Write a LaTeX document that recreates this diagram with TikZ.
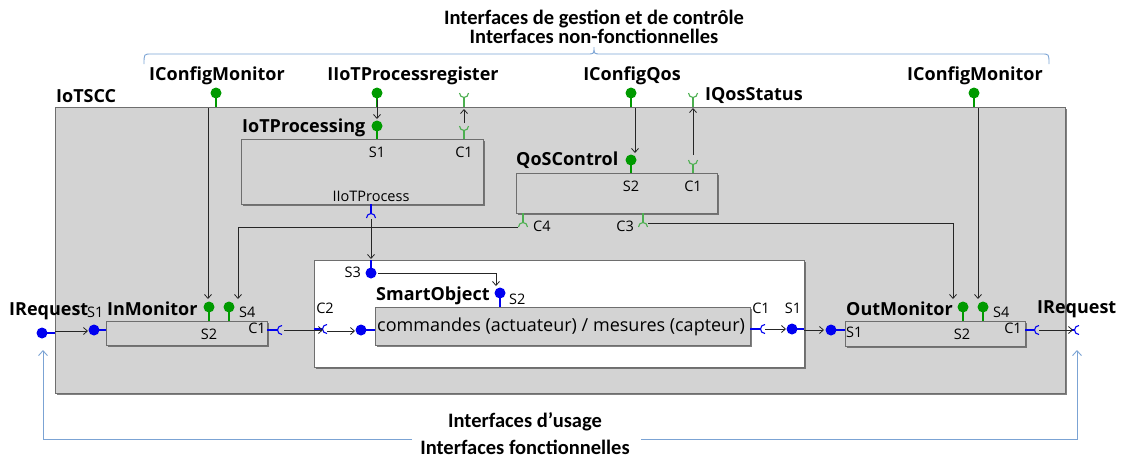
\documentclass[tikz,border=0pt]{standalone}
\usepackage{fontspec}
\setmainfont{Open Sans}
\newfontfamily\calfont{Carlito}
\usetikzlibrary{arrows.meta,shadows}
\definecolor{boxfill}{HTML}{D3D3D3}
\definecolor{boxline}{HTML}{6E6E6E}
\definecolor{gport}{HTML}{009A00}
\definecolor{gsock}{HTML}{4CAF50}
\definecolor{bport}{HTML}{0000F0}
\definecolor{bline}{HTML}{7BA3D4}
\begin{document}
\begin{tikzpicture}[x=1pt,y=-1pt,
  box/.style={draw=boxline, fill=boxfill, line width=1pt, inner sep=0,
    drop shadow={shadow xshift=1.2pt, shadow yshift=-1.2pt, opacity=0.7, fill=black!70}},
  wbox/.style={box, fill=white},
  title/.style={font=\calfont\bfseries\fontsize{20.5}{22}\selectfont, inner sep=0},
  lbl/.style={font=\bfseries\fontsize{18}{20}\selectfont, inner sep=0},
  plbl/.style={font=\fontsize{14.5}{16}\selectfont, inner sep=0},
  conn/.style={draw=black!85, line width=0.8pt, -{Straight Barb[length=4pt,width=7pt]}},
  gstem/.style={draw=gport, line width=2pt},
  bstem/.style={draw=bport, line width=2pt},
  gsk/.style={draw=gsock, line width=1.1pt},
  bsk/.style={draw=bport, line width=1.1pt},
  usage/.style={draw=bline, line width=0.9pt},
  usarrow/.style={usage, -{Straight Barb[length=5pt,width=9pt]}}
]
\useasboundingbox (0,0) rectangle (1121,459);

% ---------- titles and brace
\node[title] (t1) at (594,19) {Interfaces de gestion et de contrôle};
\node[title] (t2) at (594,36) {Interfaces non-fonctionnelles};
\draw[usage] (144,64) .. controls (144,54) .. (151,54) -- (587,54)
  .. controls (594,54) .. (594,47) .. controls (594,54) .. (601,54) -- (1042,54)
  .. controls (1049,54) .. (1049,64);

% ---------- boxes
\node[box, minimum width=1010pt, minimum height=286pt, anchor=north west] (iotscc) at (55,107) {};
\node[lbl, anchor=west] (iotsccl) at (56,96) {IoTSCC};
\node[box, minimum width=242pt, minimum height=65pt, anchor=north west] (iotp) at (241,139) {};
\node[box, minimum width=201pt, minimum height=40pt, anchor=north west] (qos) at (516,173) {};
\node[box, minimum width=161pt, minimum height=24pt, anchor=north west] (inm) at (106,321) {};
\node[wbox, minimum width=490pt, minimum height=107pt, anchor=north west] (so) at (314,260) {};
\node[box, minimum width=375pt, minimum height=38pt, anchor=north west] (cmd) at (375,307) {};
\node[box, minimum width=180pt, minimum height=25pt, anchor=north west] (outm) at (845,321) {};

% ---------- box labels
\node[lbl, anchor=west] (iotpl) at (242,128) {IoTProcessing};
\node[lbl, anchor=west] (qosl) at (516,160) {QoSControl};
\node[lbl, anchor=west] (inml) at (107,309) {InMonitor};
\node[lbl, anchor=west] (sol) at (376,296) {SmartObject};
\node[lbl, anchor=west] (outml) at (846,309) {OutMonitor};
\node[font=\fontsize{18}{20}\selectfont, inner sep=0, anchor=west] (cmdt) at (377,327) {commandes (actuateur) / mesures (capteur)};

% ---------- external top interfaces
\node[lbl] (icm1) at (217,76) {IConfigMonitor};
\node[lbl] (iotpr) at (413,76) {IIoTProcessregister};
\node[lbl] (icq) at (632,76) {IConfigQos};
\node[lbl, anchor=west] (iqs) at (705,95) {IQosStatus};
\node[lbl] (icm2) at (975,76) {IConfigMonitor};

% green lollipops (provided, top)
\coordinate (pcm1) at (216,93);
\coordinate (ppr) at (377,93);
\coordinate (pcq) at (631,93);
\coordinate (pcm2) at (974,93);
\foreach \p in {pcm1,ppr,pcq,pcm2}{
  \draw[gstem] (\p) -- ++(0,14);
  \fill[gport] (\p) circle (5.5pt);
}
% green sockets (required, top)
\coordinate (spr) at (464,93);
\coordinate (sqs) at (693,93);
\foreach \p in {spr,sqs}{
  \draw[gsk] (\p) ++(0,4.5) -- ++(0,9);
  \draw[gsk] (\p) ++(-4.5,0) arc (180:360:4.5pt);
}

% ---------- IoTProcessing ports
\coordinate (iotpS1) at (377,126);
\draw[gstem] (iotpS1) -- (377,139);
\fill[gport] (iotpS1) circle (5.5pt);
\coordinate (iotpC1) at (464,126);
\draw[gsk] (iotpC1) ++(0,4.5) -- (464,139);
\draw[gsk] (iotpC1) ++(-4.5,0) arc (180:360:4.5pt);
\node[plbl] (iotpS1l) at (377,152) {S1};
\node[plbl] (iotpC1l) at (464,152) {C1};
\node[plbl] (iotpIPl) at (371,196) {IIoTProcess};
\coordinate (iotpIP) at (371,218);
\draw[bsk] (371,204) -- (371,213.5);
\draw[bsk] (iotpIP) ++(4.5,0) arc (0:180:4.5pt);

% ---------- QoSControl ports
\coordinate (qosS2) at (631,160);
\draw[gstem] (qosS2) -- (631,173);
\fill[gport] (qosS2) circle (5.5pt);
\coordinate (qosC1) at (693,160);
\draw[gsk] (qosC1) ++(0,4.5) -- (693,173);
\draw[gsk] (qosC1) ++(-4.5,0) arc (180:360:4.5pt);
\node[plbl] (qosS2l) at (631,186) {S2};
\node[plbl] (qosC1l) at (693,186) {C1};
\coordinate (qosC4) at (523,227);
\draw[gsk] (523,213) -- (523,222.5);
\draw[gsk] (qosC4) ++(4.5,0) arc (0:180:4.5pt);
\node[plbl, anchor=west] (qosC4l) at (533,226) {C4};
\coordinate (qosC3) at (643,227);
\draw[gsk] (643,213) -- (643,222.5);
\draw[gsk] (qosC3) ++(4.5,0) arc (0:180:4.5pt);
\node[plbl, anchor=east] (qosC3l) at (634,226) {C3};

% ---------- InMonitor ports
\coordinate (inmS2) at (209,307);
\coordinate (inmS4) at (229,307);
\foreach \p in {inmS2,inmS4}{
  \draw[gstem] (\p) -- ++(0,14);
  \fill[gport] (\p) circle (5.5pt);
}
\node[plbl, anchor=west] (inmS4l) at (239,312) {S4};
\node[plbl] (inmS2l) at (209,334) {S2};
\node[plbl] (inmC1l) at (257,328) {C1};
\coordinate (inmS1) at (94,330);
\draw[bstem] (inmS1) -- (106,330);
\fill[bport] (inmS1) circle (5.5pt);
\node[plbl, anchor=west] (inmS1l) at (87,312) {S1};
\coordinate (inmC1) at (282,330);
\draw[bsk] (267,330) -- (277.5,330);
\draw[bsk] (inmC1) ++(0,-4.5) arc (90:270:4.5pt);

% external IRequest left
\node[lbl, anchor=west] (ireq1) at (9,311) {IRequest};
\coordinate (ireqL) at (42,333);
\draw[bstem] (ireqL) -- (55,333);
\fill[bport] (ireqL) circle (5.5pt);

% ---------- SmartObject ports
\coordinate (soS3) at (371,273);
\draw[bstem] (soS3) -- (371,260);
\fill[bport] (soS3) circle (5.5pt);
\node[plbl, anchor=east] (soS3l) at (361,272) {S3};
\coordinate (soS2) at (500,293);
\draw[bstem] (soS2) -- (500,307);
\fill[bport] (soS2) circle (5.5pt);
\node[plbl, anchor=west] (soS2l) at (509,299) {S2};
\coordinate (soC2) at (327,329);
\draw[bsk] (314,329) -- (322.5,329);
\draw[bsk] (soC2) ++(0,-4.5) arc (90:270:4.5pt);
\node[plbl] (soC2l) at (325,308) {C2};
\coordinate (cmdIn) at (361,330);
\draw[bstem] (cmdIn) -- (375,330);
\fill[bport] (cmdIn) circle (5.5pt);
\coordinate (cmdC1) at (765,329);
\draw[bsk] (750,329) -- (760.5,329);
\draw[bsk] (cmdC1) ++(0,-4.5) arc (90:270:4.5pt);
\node[plbl] (cmdC1l) at (761,308) {C1};
\coordinate (soS1) at (792,329);
\draw[bstem] (soS1) -- (804,329);
\fill[bport] (soS1) circle (5.5pt);
\node[plbl] (soS1l) at (793,308) {S1};

% ---------- OutMonitor ports
\coordinate (outS2) at (963,307);
\coordinate (outS4) at (983,307);
\foreach \p in {outS2,outS4}{
  \draw[gstem] (\p) -- ++(0,14);
  \fill[gport] (\p) circle (5.5pt);
}
\node[plbl, anchor=west] (outS4l) at (993,312) {S4};
\node[plbl] (outS2l) at (962,334) {S2};
\node[plbl] (outC1l) at (1013,328) {C1};
\coordinate (outS1) at (831,330);
\draw[bstem] (outS1) -- (845,330);
\fill[bport] (outS1) circle (5.5pt);
\node[plbl, anchor=west] (outS1l) at (846,332) {S1};
\coordinate (outC1) at (1039,330);
\draw[bsk] (1025,330) -- (1034.5,330);
\draw[bsk] (outC1) ++(0,-4.5) arc (90:270:4.5pt);
\node[lbl, anchor=west] (ireq2) at (1037,309) {IRequest};
\coordinate (ireqR) at (1079,330);
\draw[bsk] (1071,330) -- (1074.5,330);
\draw[bsk] (ireqR) ++(0,-4.5) arc (90:270:4.5pt);

% ---------- connectors
\draw[conn] (208,108) -- (208,299);
\draw[conn] (ppr) ++(0,7) -- (377,119);
\draw[conn] (464,123) -- (464,109);
\draw[conn] (635,108) -- (635,153);
\draw[conn] (693,155) -- (693,108);
\draw[conn] (978,108) -- (978,299);
\draw[conn] (qosC4) ++(-5,0) -- (238,227) -- (238,299);
\draw[conn] (qosC3) ++(5,-4) -- (953,223) -- (953,299);
\draw[conn] (iotpIP) ++(0,1) -- (371,259);
\draw[conn] (soS3) ++(7,0) -- (496,273) -- (496,286);
\draw[conn] (55,331) -- (88,331);
\draw[conn] (inmC1) ++(2,0) -- (323,330);
\draw[conn] (soC2) ++(0,2) -- (355,331);
\draw[conn] (cmdC1) -- (786,329);
\draw[conn] (804,330) -- (824,330);
\draw[conn] (outC1) -- (1073,330);

% ---------- usage interfaces
\node[title] (t3) at (525,422) {Interfaces d’usage};
\node[title] (t4) at (525,447) {Interfaces fonctionnelles};
\draw[usarrow] (412,439) -- (43,439) -- (43,350);
\draw[usarrow] (641,439) -- (1077,439) -- (1077,350);
\end{tikzpicture}
\end{document}
